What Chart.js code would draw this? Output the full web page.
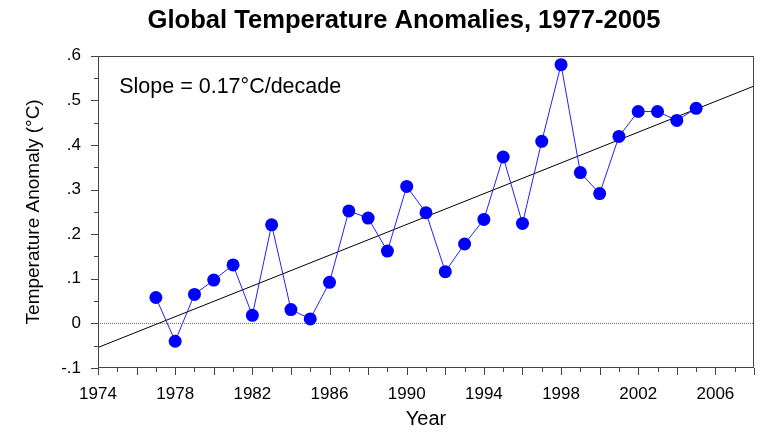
<!DOCTYPE html>
<html><head><meta charset="utf-8">
<script src="https://cdn.jsdelivr.net/npm/chart.js@4.4.1/dist/chart.umd.min.js"></script>
<style>html,body{margin:0;padding:0;background:#fff}</style>
</head><body>
<canvas id="c" width="784" height="432"></canvas>
<script>
const years = [1977,1978,1979,1980,1981,1982,1983,1984,1985,1986,1987,1988,1989,1990,1991,1992,1993,1994,1995,1996,1997,1998,1999,2000,2001,2002,2003,2004,2005];
const anomalies = [0.058,-0.040,0.065,0.097,0.131,0.018,0.221,0.031,0.010,0.092,0.252,0.236,0.162,0.307,0.248,0.116,0.178,0.233,0.373,0.224,0.408,0.580,0.338,0.291,0.419,0.475,0.475,0.455,0.482];
const trendYears = [1974, 2008];
const trendValues = [-0.054, 0.532];
const zeroYears = [1974, 2008];
const zeroValues = [0, 0];
const xLabelYears = [1974,1978,1982,1986,1990,1994,1998,2002,2006];
const titleText = 'Global Temperature Anomalies, 1977-2005';
const xTitle = 'Year';
const yTitle = 'Temperature Anomaly (°C)';
const slopeText = 'Slope = 0.17°C/decade';
const slopeAnchor = [1975.1, 0.53];

const toPts = (xs, ys) => xs.map((v, i) => ({x: v, y: ys[i]}));

const framePlugin = {
  id: 'frame',
  afterDraw(chart) {
    const {ctx, chartArea: a, scales: {x, y}} = chart;
    ctx.save();
    ctx.strokeStyle = '#444';
    ctx.lineWidth = 1;
    ctx.strokeRect(Math.round(a.left) + 0.5, Math.round(a.top) + 0.5, Math.round(a.right - a.left) - 1, Math.round(a.bottom - a.top) - 1);
    ctx.beginPath();
    for (let yr = x.min; yr <= x.max; yr++) {
      const px = Math.round(x.getPixelForValue(yr)) + 0.5;
      const len = yr % 2 === 0 ? 7 : 4;
      ctx.moveTo(px, a.bottom);
      ctx.lineTo(px, a.bottom + len);
    }
    for (let i = 0; i <= 14; i++) {
      const v = -0.1 + i * 0.05;
      const py = Math.round(y.getPixelForValue(v)) + 0.5;
      const len = i % 2 === 0 ? 7 : 4;
      ctx.moveTo(a.left - len, py);
      ctx.lineTo(a.left, py);
    }
    ctx.stroke();
    ctx.fillStyle = '#000';
    ctx.font = '21.5px "Liberation Sans", Arial, sans-serif';
    ctx.textBaseline = 'middle';
    ctx.textAlign = 'left';
    ctx.fillText(slopeText, x.getPixelForValue(slopeAnchor[0]), y.getPixelForValue(slopeAnchor[1]));
    ctx.restore();
  }
};

const tickFont = {family: '"Liberation Sans", Arial, sans-serif', size: 17};

new Chart(document.getElementById('c'), {
  type: 'line',
  data: {
    datasets: [
      {
        label: 'Anomaly',
        data: toPts(years, anomalies),
        borderColor: '#2020ff',
        borderWidth: 1,
        backgroundColor: '#0000ff',
        pointBackgroundColor: '#0000ff',
        pointBorderWidth: 0,
        pointRadius: 6.5,
        tension: 0
      },
      {
        label: 'Trend',
        data: toPts(trendYears, trendValues),
        borderColor: '#000',
        borderWidth: 1,
        pointRadius: 0
      },
      {
        label: 'Zero',
        data: toPts(zeroYears, zeroValues),
        borderColor: '#666',
        borderWidth: 1,
        borderDash: [1, 1],
        pointRadius: 0
      }
    ]
  },
  options: {
    responsive: false,
    devicePixelRatio: 1,
    animation: false,
    layout: {padding: {left: 54, right: 30, top: 0, bottom: 0}},
    plugins: {
      legend: {display: false},
      tooltip: {enabled: false},
      title: {
        display: true,
        text: titleText,
        color: '#000',
        font: {family: '"Liberation Sans", Arial, sans-serif', size: 25.6, weight: 'bold'},
        padding: {top: 6, bottom: 19}
      }
    },
    scales: {
      x: {
        type: 'linear',
        min: 1974,
        max: 2008,
        afterFit: (s) => { s.height = 64; },
        grid: {display: false, drawTicks: false},
        border: {display: false},
        ticks: {
          stepSize: 1,
          autoSkip: false,
          maxRotation: 0,
          padding: 16,
          color: '#000',
          font: tickFont,
          callback: (v) => xLabelYears.includes(v) ? String(v) : ''
        },
        title: {
          display: true,
          text: xTitle,
          color: '#000',
          font: {family: '"Liberation Sans", Arial, sans-serif', size: 20},
          padding: {top: 0, bottom: 1}
        }
      },
      y: {
        type: 'linear',
        min: -0.1,
        max: 0.6,
        afterFit: (s) => { s.width = 44; },
        grid: {display: false, drawTicks: false},
        border: {display: false},
        ticks: {
          stepSize: 0.1,
          padding: 17,
          color: '#000',
          font: tickFont,
          callback: (v) => {
            const s = (Math.round(v * 10) / 10).toFixed(1);
            if (s === '0.0' || s === '-0.0') return '0';
            return s.replace(/^(-?)0\./, '$1.');
          }
        },
        title: {
          display: true,
          text: yTitle,
          color: '#000',
          font: {family: '"Liberation Sans", Arial, sans-serif', size: 19},
          padding: {top: -32, bottom: 0}
        }
      }
    }
  },
  plugins: [framePlugin]
});
</script>
</body></html>
